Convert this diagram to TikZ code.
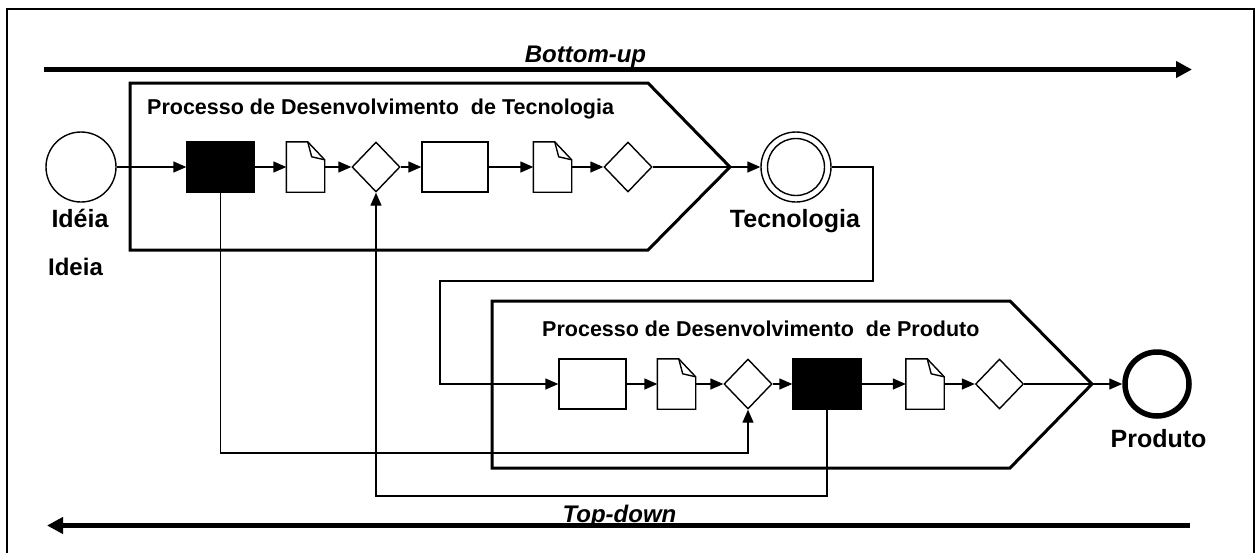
\documentclass[tikz,border=0pt]{standalone}
\usepackage{fontspec}
\setmainfont{Liberation Sans}
\usetikzlibrary{shapes.geometric,arrows.meta,calc}
\newcommand\drawdoc[1]{%
  \draw[thinline,fill=white] (#1.south west) -- (#1.north west) -- ([xshift=-17pt]#1.north east) -- ([yshift=-18pt]#1.north east) -- (#1.south east) -- cycle;
  \draw[thinline] ([xshift=-17pt]#1.north east) -- ([xshift=-13pt,yshift=-15pt]#1.north east) -- ([yshift=-18pt]#1.north east);}
\begin{document}
\begin{tikzpicture}[x=1pt,y=-1pt,
  thinline/.style={line width=1.4pt,line join=miter},
  flow/.style={thinline,-{Triangle[length=13pt,width=11pt]}},
  taskbox/.style={rectangle,draw,thinline,fill=white,inner sep=0pt,minimum width=66pt,minimum height=50pt},
  blackbox/.style={taskbox,fill=black},
  docbox/.style={rectangle,inner sep=0pt,minimum width=38pt,minimum height=50pt},
  gate/.style={diamond,draw,thinline,fill=white,inner sep=0pt,minimum width=48pt,minimum height=50pt},
  eventc/.style={circle,draw,thinline,fill=white,inner sep=0pt,minimum size=70pt},
  endc/.style={circle,draw,line width=5.5pt,fill=white,inner sep=0pt,minimum size=64pt},
  procline/.style={line width=3pt,line join=miter},
  bigarrow/.style={line width=5pt,-{Triangle[length=16pt,width=16pt]}},
  label/.style={font=\fontsize{25}{30}\selectfont\bfseries,anchor=base,inner sep=0pt},
  ptitle/.style={font=\fontsize{21.5}{26}\selectfont\bfseries,anchor=base west,inner sep=0pt},
  dirlabel/.style={font=\fontsize{24}{29}\selectfont\bfseries\itshape,anchor=base,inner sep=0pt}]
\useasboundingbox (0,0) rectangle (1256,552);
\fill[white] (0,0) rectangle (1256,552);
% frame
\draw[line width=2pt] (7,560) -- (7,9) -- (1254,9) -- (1254,560);
% direction arrows
\coordinate (bu1) at (44,69.5);
\coordinate (bu2) at (1192,69.5);
\draw[bigarrow] (bu1) -- (bu2);
\node[dirlabel] (bulab) at (585.5,62) {Bottom-up};
\coordinate (td1) at (1190,525.5);
\coordinate (td2) at (47,525.5);
\draw[bigarrow] (td1) -- (td2);
% process pentagons
\draw[procline] (130,83) -- (648,83) -- (730,167) -- (648,250) -- (130,250) -- cycle;
\draw[procline] (492,301) -- (1010,301) -- (1092,384) -- (1010,468) -- (492,468) -- cycle;
\node[ptitle] (t1) at (147,114) {Processo de Desenvolvimento\ \ de Tecnologia};
\node[ptitle] (t2) at (542,336) {Processo de Desenvolvimento\ \ de Produto};
% row 1
\node[eventc] (idea) at (81,167) {};
\node[blackbox,minimum width=67pt] (bb1) at (220.5,167) {};
\node[docbox] (doc1) at (305.5,167) {};
\node[gate] (d1) at (376,167) {};
\node[taskbox] (r2) at (455,167) {};
\node[docbox] (doc2) at (552.5,167) {};
\node[gate] (d2) at (628,167) {};
\node[eventc] (tc) at (796,167) {};
\draw[thinline] (tc.center) circle (28.5);
% row 2
\node[taskbox,minimum width=67pt] (r3) at (592.5,384) {};
\node[docbox] (doc3) at (676.5,384) {};
\node[gate] (d3) at (748,384) {};
\node[blackbox,minimum width=68pt] (bb2) at (827,384) {};
\node[docbox] (doc4) at (925,384) {};
\node[gate] (d4) at (999.5,384) {};
\node[endc] (prod) at (1157,384) {};
\drawdoc{doc1}
\drawdoc{doc2}
\drawdoc{doc3}
\drawdoc{doc4}
% labels
\node[label] (lidea) at (80,227) {Idéia};
\node[dirlabel,font=\fontsize{24}{29}\selectfont\bfseries] (lidea2) at (75.5,275) {Ideia};
\node[label] (ltc) at (795,227) {Tecnologia};
\node[label] (lprod) at (1158.5,447) {Produto};
\node[dirlabel] (tdlab) at (619.5,522) {Top-down};
% flows row 1
\draw[flow] (idea) -- (bb1);
\draw[flow] (bb1) -- (doc1);
\draw[flow] (doc1) -- (d1);
\draw[flow] (d1) -- (r2);
\draw[flow] (r2) -- (doc2);
\draw[flow] (doc2) -- (d2);
\draw[flow] (d2) -- (tc);
% link to row 2
\coordinate (k1) at (873,281);
\coordinate (k2) at (440,384);
\draw[flow] (tc) -| (k1) -| (k2) -- (r3);
% flows row 2
\draw[flow] (r3) -- (doc3);
\draw[flow] (doc3) -- (d3);
\draw[flow] (d3) -- (bb2);
\draw[flow] (bb2) -- (doc4);
\draw[flow] (doc4) -- (d4);
\draw[flow] (d4) -- (prod);
% feedback
\coordinate (fb1) at (748,453);
\coordinate (fb2) at (376,496);
\draw[flow] (bb1.south) |- (fb1) -- (d3.south);
\draw[flow] (bb2.south) |- (fb2) -- (d1.south);
\end{tikzpicture}
\end{document}
